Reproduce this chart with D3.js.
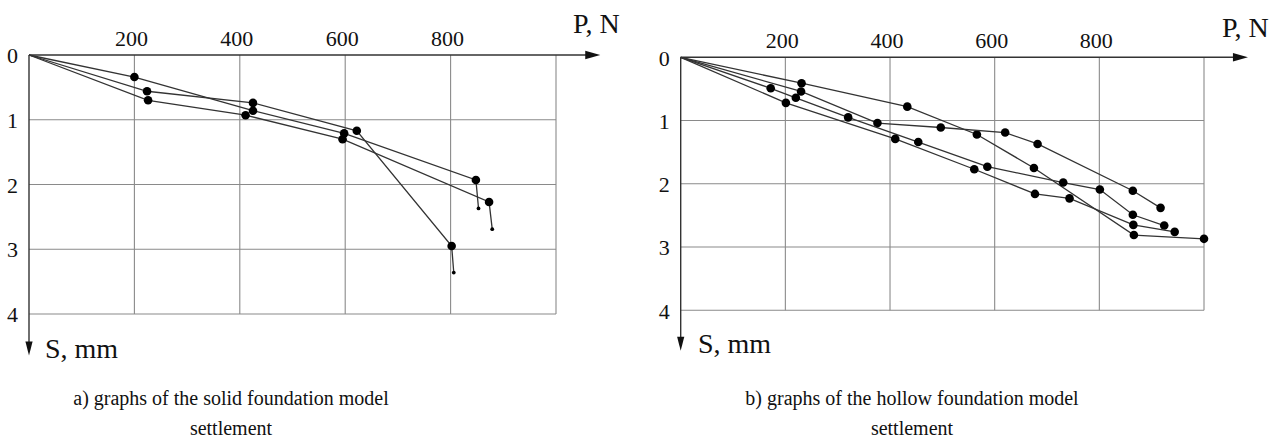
<!DOCTYPE html>
<html>
<head>
<meta charset="utf-8">
<script src="https://cdn.jsdelivr.net/npm/d3@7"></script>
<style>
  html, body { margin: 0; padding: 0; background: #fff; }
  svg { display: block; }
  text { font-family: "Liberation Serif", "Times New Roman", serif; fill: #111; }
</style>
</head>
<body>
<svg id="chart" width="1285" height="446"></svg>
<script>
// ---------- data ----------
const xTickValues = [200, 400, 600, 800];
const yTickValues = [0, 1, 2, 3, 4];
const xGridValues = [200, 400, 600, 800, 1000];
const yGridValues = [1, 2, 3, 4];

// a) solid foundation model
const solidP1 = [0, 200, 425, 598, 848, 853];
const solidS1 = [0, 0.34, 0.86, 1.21, 1.93, 2.37];
const solidP2 = [0, 224, 425, 622, 802, 806];
const solidS2 = [0, 0.56, 0.74, 1.17, 2.95, 3.36];
const solidP3 = [0, 226, 411, 595, 873, 879];
const solidS3 = [0, 0.70, 0.93, 1.30, 2.27, 2.69];

// b) hollow foundation model
const hollowP1 = [0, 231, 433, 566, 675, 866, 1000];
const hollowS1 = [0, 0.41, 0.78, 1.22, 1.75, 2.81, 2.87];
const hollowP2 = [0, 230, 376, 497, 620, 682, 864, 917];
const hollowS2 = [0, 0.54, 1.04, 1.11, 1.19, 1.37, 2.11, 2.38];
const hollowP3 = [0, 172, 220, 320, 454, 586, 731, 801, 864, 924];
const hollowS3 = [0, 0.49, 0.64, 0.95, 1.34, 1.73, 1.98, 2.09, 2.49, 2.66];
const hollowP4 = [0, 201, 410, 561, 677, 743, 865, 944];
const hollowS4 = [0, 0.72, 1.29, 1.77, 2.16, 2.23, 2.65, 2.76];

const xAxisTitle = "P, N";
const yAxisTitle = "S, mm";
const captionA = ["a) graphs of the solid foundation model", "settlement"];
const captionB = ["b) graphs of the hollow foundation model", "settlement"];

// ---------- drawing ----------
const svg = d3.select("#chart");

function zip(P, S) { return P.map((p, i) => ({ p: p, s: S[i] })); }

function drawPanel(cfg) {
  const x = d3.scaleLinear().domain([0, 1000]).range([cfg.x0, cfg.x1]);
  const y = d3.scaleLinear().domain([0, 4]).range([cfg.y0, cfg.y1]);
  const g = svg.append("g");

  // grid
  g.selectAll("line.vgrid").data(xGridValues).enter().append("line")
    .attr("x1", d => x(d)).attr("x2", d => x(d))
    .attr("y1", y(0)).attr("y2", y(4))
    .attr("stroke", "#8a8a8a").attr("stroke-width", 1.1);
  g.selectAll("line.hgrid").data(yGridValues).enter().append("line")
    .attr("x1", x(0)).attr("x2", x(1000))
    .attr("y1", d => y(d)).attr("y2", d => y(d))
    .attr("stroke", "#8a8a8a").attr("stroke-width", 1.1);

  // axes with arrows
  const xEnd = x(1084), yEnd = y(4.64);
  g.append("line").attr("x1", x(0)).attr("x2", xEnd - 6)
    .attr("y1", y(0)).attr("y2", y(0)).attr("stroke", "#333").attr("stroke-width", 1.4);
  g.append("path")
    .attr("d", `M${xEnd},${y(0)} L${xEnd - 15},${y(0) - 4.3} L${xEnd - 15},${y(0) + 4.3} Z`)
    .attr("fill", "#111");
  g.append("line").attr("x1", x(0)).attr("x2", x(0))
    .attr("y1", y(0)).attr("y2", yEnd - 6).attr("stroke", "#333").attr("stroke-width", 1.4);
  g.append("path")
    .attr("d", `M${x(0)},${yEnd} L${x(0) - 3.6},${yEnd - 14} L${x(0) + 3.6},${yEnd - 14} Z`)
    .attr("fill", "#111");

  // tick labels through d3 axes
  const ax = g.append("g").attr("transform", `translate(-3.5,${y(0) - 9})`)
    .call(d3.axisTop(x).tickValues(xTickValues).tickFormat(d3.format("d"))
      .tickSize(0).tickPadding(0));
  ax.select(".domain").remove();
  ax.selectAll("text").attr("font-size", 22).attr("fill", "#111").attr("dy", 0);

  const ay = g.append("g").attr("transform", `translate(${x(0) - 11},0)`)
    .call(d3.axisLeft(y).tickValues(yTickValues).tickFormat(d3.format("d"))
      .tickSize(0).tickPadding(0));
  ay.select(".domain").remove();
  ay.selectAll("text").attr("font-size", 22).attr("fill", "#111").attr("dy", "0.35em");

  // axis titles
  g.append("text").attr("x", cfg.pLabelX).attr("y", cfg.pLabelY)
    .attr("font-size", 28).text(xAxisTitle);
  g.append("text").attr("x", cfg.sLabelX).attr("y", cfg.sLabelY)
    .attr("font-size", 28).text(yAxisTitle);

  // series
  const line = d3.line().x(d => x(d.p)).y(d => y(d.s));
  cfg.series.forEach(ser => {
    const pts = zip(ser[0], ser[1]);
    g.append("path").datum(pts).attr("d", line)
      .attr("fill", "none").attr("stroke", "#333").attr("stroke-width", 1.3);
    g.selectAll(null).data(pts.slice(1)).enter().append("circle")
      .attr("cx", d => x(d.p)).attr("cy", d => y(d.s))
      .attr("r", (d, i) => (cfg.smallLast && i === pts.length - 2) ? 1.9 : 4.3)
      .attr("fill", "#000");
  });

  // caption
  cfg.caption.forEach((t, i) => {
    g.append("text").attr("x", cfg.capX).attr("y", 405 + i * 30)
      .attr("text-anchor", "middle").attr("font-size", 20).text(t);
  });
}

drawPanel({
  x0: 29, x1: 556, y0: 55, y1: 314,
  pLabelX: 573, pLabelY: 33, sLabelX: 45, sLabelY: 358,
  capX: 231, caption: captionA, smallLast: true,
  series: [[solidP1, solidS1], [solidP2, solidS2], [solidP3, solidS3]]
});

drawPanel({
  x0: 680.7, x1: 1204, y0: 57.3, y1: 310.3,
  pLabelX: 1222, pLabelY: 37, sLabelX: 698, sLabelY: 353,
  capX: 912, caption: captionB, smallLast: false,
  series: [[hollowP1, hollowS1], [hollowP2, hollowS2], [hollowP3, hollowS3], [hollowP4, hollowS4]]
});
</script>
</body>
</html>
